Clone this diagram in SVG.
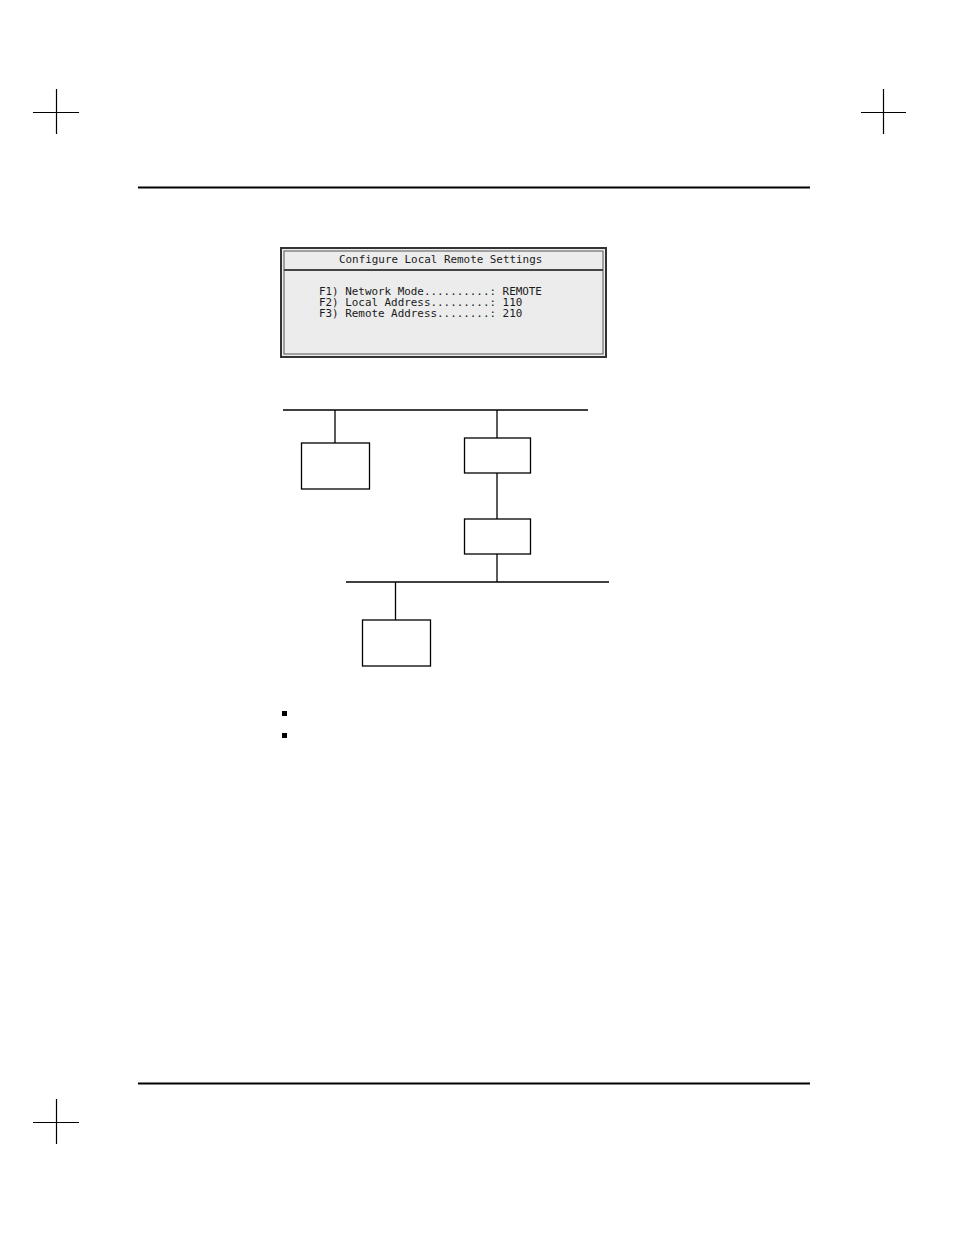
<svg xmlns="http://www.w3.org/2000/svg" width="954" height="1235" viewBox="0 0 954 1235">
<style>
.crop{stroke:#000;stroke-width:1.2;fill:none}
.rule{stroke:#000;stroke-width:2;fill:none}
.wire{stroke:#000;stroke-width:1.3;fill:none}
.node{fill:#fff;stroke:#000;stroke-width:1.3}
.scr{font-family:"DejaVu Sans Mono","Liberation Mono",monospace;font-size:10.9px;fill:#1a1a1a}
.bul{fill:#000}
</style>
<rect x="0" y="0" width="954" height="1235" fill="#fff"/>
<g id="crop-marks">
<path class="crop" d="M56.5 89V134M33 112.5H79"/>
<path class="crop" d="M883.5 89V134M861 112.5H906"/>
<path class="crop" d="M56.5 1099V1144M33 1122.5H79"/>
</g>
<g id="page-rules">
<path class="rule" d="M138 187.5H810"/>
<path class="rule" d="M138 1083.5H810"/>
</g>
<g id="screen">
<rect x="281" y="248" width="325" height="109" fill="#ececec" stroke="#333" stroke-width="2"/>
<rect x="284" y="251" width="319" height="103" fill="none" stroke="#555" stroke-width="1"/>
<path d="M284 270H603" stroke="#444" stroke-width="2"/>
<text class="scr" x="339" y="263">Configure Local Remote Settings</text>
<text class="scr" x="319" y="295" xml:space="preserve">F1) Network Mode..........: REMOTE</text>
<text class="scr" x="319" y="306" xml:space="preserve">F2) Local Address.........: 110</text>
<text class="scr" x="319" y="317" xml:space="preserve">F3) Remote Address........: 210</text>
</g>
<g id="connectors">
<path class="wire" d="M283 410H588"/>
<path class="wire" d="M335 410V443"/>
<path class="wire" d="M497 410V438"/>
<path class="wire" d="M497 473V519"/>
<path class="wire" d="M497 554V582"/>
<path class="wire" d="M346 582H609"/>
<path class="wire" d="M395.5 582V620"/>
</g>
<g id="node1"><rect class="node" x="301.5" y="443" width="68" height="46"/></g>
<g id="node2"><rect class="node" x="464.5" y="438" width="66" height="35"/></g>
<g id="node3"><rect class="node" x="464.5" y="519" width="66" height="35"/></g>
<g id="node4"><rect class="node" x="362.5" y="620" width="68" height="46"/></g>
<g id="bullets">
<rect class="bul" x="282" y="711" width="5" height="5"/>
<rect class="bul" x="282" y="733" width="5" height="5"/>
</g>
</svg>
